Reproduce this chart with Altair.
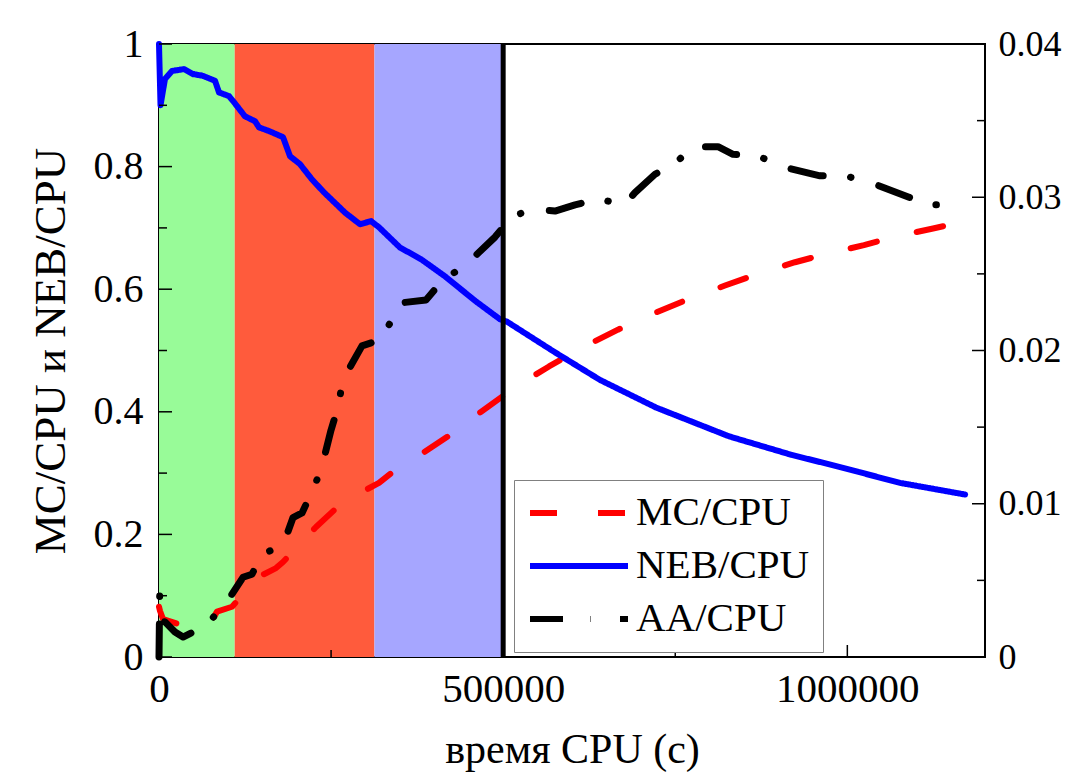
import altair as alt
import pandas as pd

# ---------------- data ----------------
t_neb = [0, 2200, 8700, 18900, 36300, 49400, 63900, 81400, 87200, 101700, 109000,
         124900, 139500, 145300, 159800, 180200, 190300, 204800, 222300, 239700,
         270200, 292000, 308000, 319600, 350100, 380600, 415500, 460500, 495400,
         505600, 575300, 640700, 722000, 828100, 918200, 992300, 1076700, 1171100]
v_neb = [1.0, 0.90, 0.943, 0.956, 0.959, 0.951, 0.948, 0.94, 0.921, 0.915, 0.905,
         0.882, 0.874, 0.864, 0.858, 0.848, 0.817, 0.804, 0.779, 0.758,
         0.725, 0.706, 0.711, 0.701, 0.668, 0.649, 0.621, 0.58, 0.551,
         0.547, 0.497, 0.452, 0.407, 0.36, 0.33, 0.309, 0.284, 0.265]

t_mc = [0, 1500, 5800, 37800, 63900, 77000, 84300, 106100, 145300, 170000, 180200,
        228100, 267300, 319600, 342900, 364700, 419900, 467800, 518600, 566600,
        618900, 666800, 722000, 767100, 822300, 867300, 924000, 967600, 1024200,
        1070700, 1124500, 1171100]
v_mc = [0.082, 0.075, 0.062, 0.05, 0.052, 0.06, 0.074, 0.082, 0.131, 0.145, 0.155,
        0.212, 0.253, 0.284, 0.305, 0.319, 0.36, 0.40, 0.441, 0.474,
        0.507, 0.534, 0.562, 0.583, 0.606, 0.624, 0.644, 0.657, 0.672,
        0.686, 0.699, 0.711]

t_aa = [0, 1000, 2500, 8700, 23200, 34900, 49400, 66800, 77000, 98800, 122000,
        135100, 149600, 180200, 194700, 207800, 222300, 235400, 249900, 260000,
        267300, 294900, 322500, 342900, 350100, 387900, 412600, 443100, 457600,
        488100, 514300, 546300, 575300, 604400, 637800, 675600, 691500, 720600,
        751100, 778700, 812100, 833900, 870200, 905100, 960300, 996700, 1031500,
        1089600, 1124500, 1166600]
v_aa = [0.0, 0.0040, 0.0024, 0.00229, 0.00163, 0.0013, 0.00163, 0.0022, 0.0025,
        0.0036, 0.0052, 0.0054, 0.0067, 0.0073, 0.0091, 0.0094, 0.0108, 0.0122,
        0.0148, 0.0163, 0.0181, 0.0203, 0.0207, 0.0224, 0.0231, 0.0233, 0.0246,
        0.0255, 0.0261, 0.0274, 0.0288, 0.0292, 0.0291, 0.0295, 0.0299, 0.0295,
        0.0303, 0.0315, 0.0323, 0.0333, 0.0333, 0.0328, 0.0327, 0.032, 0.0314,
        0.0314, 0.031, 0.030, 0.0295, 0.0296]

series_names = ["MC/CPU", "NEB/CPU", "AA/CPU"]
series_colors = ["#FF0000", "#0000FF", "#000000"]
series_dash = [[27, 41], [1, 0], [33, 27.5, 0.5, 29]]

region_start = [0, 110000, 313000]
region_end = [110000, 313000, 500000]
region_color = ["#98FB98", "#FF5B3C", "#A6A6FF"]
marker_t = [500000]

x_major = [0, 500000, 1000000]
x_minor = [250000, 750000]
yl_major = [0, 0.2, 0.4, 0.6, 0.8, 1.0]
yl_minor = [0.1, 0.3, 0.5, 0.7, 0.9]
yr_major = [0, 0.01, 0.02, 0.03, 0.04]
yr_minor = [0.005, 0.015, 0.025, 0.035]

# ---------------- frames ----------------
W, H = 826, 613
FONT = "Liberation Serif"

left_df = pd.concat([
    pd.DataFrame({"t": t_mc, "v": v_mc, "series": "MC/CPU"}),
    pd.DataFrame({"t": t_neb, "v": v_neb, "series": "NEB/CPU"}),
])
aa_df = pd.DataFrame({"t": t_aa, "v": v_aa, "series": "AA/CPU"})
reg_df = pd.DataFrame({"s": region_start, "e": region_end, "c": region_color})
mark_df = pd.DataFrame({"t": marker_t})

xs = alt.Scale(domain=[0, 1200000], nice=False, zero=False)
yls = alt.Scale(domain=[0, 1], nice=False)
yrs = alt.Scale(domain=[0, 0.04], nice=False)

common_axis = dict(labelFont=FONT, labelColor="black",
                   titleFont=FONT, titleFontWeight="normal",
                   titleColor="black", domain=False, ticks=False, tickSize=0,
                   grid=False, labelFlush=False)

x_axis = alt.Axis(values=x_major, format="d", title="время CPU (с)", labelPadding=12,
                  labelFontSize=41, titleFontSize=42, titlePadding=20, **common_axis)
yl_axis = alt.Axis(values=yl_major, format="~g", title="MC/CPU и NEB/CPU",
                   labelFontSize=40, titleFontSize=45,
                   labelPadding=16, titlePadding=20, **common_axis)
yr_axis = alt.Axis(values=yr_major, format="~g", title=None, orient="right",
                   labelFontSize=36, labelPadding=13, **common_axis)

legend = alt.Legend(title=None, orient="none", legendX=355, legendY=436,
                    symbolType="stroke", symbolSize=9604, clipHeight=40,
                    symbolStrokeWidth=6, labelFont=FONT, labelLimit=400,
                    labelFontSize=41, labelColor="black",
                    padding=13, rowPadding=12, symbolOffset=0,
                    labelOffset=5, strokeColor="#808080", fillColor="white")

color_enc = alt.Color("series:N", scale=alt.Scale(domain=series_names, range=series_colors),
                      legend=legend)
dash_enc = alt.StrokeDash("series:N", scale=alt.Scale(domain=series_names, range=series_dash),
                          legend=legend)

regions = alt.Chart(reg_df).mark_rect().encode(
    x=alt.X("s:Q", scale=xs, axis=x_axis), x2="e:Q",
    y=alt.value(0), y2=alt.value(H),
    fill=alt.Fill("c:N", scale=None),
)

lines = alt.Chart(left_df).mark_line(strokeWidth=6, strokeCap="round", strokeJoin="round").encode(
    x=alt.X("t:Q", scale=xs, axis=x_axis),
    y=alt.Y("v:Q", scale=yls, axis=yl_axis),
    color=color_enc, strokeDash=dash_enc,
    order="t:Q",
)

marker = alt.Chart(mark_df).mark_rule(color="black", strokeWidth=5).encode(
    x=alt.X("t:Q", scale=xs, axis=x_axis), y=alt.value(0), y2=alt.value(H)
)


def vtick(vals, length, scale, axis):
    return alt.Chart(pd.DataFrame({"v": vals})).mark_rule(color="black", strokeWidth=1.5).encode(
        y=alt.Y("v:Q", scale=scale, axis=axis), x=alt.value(0), x2=alt.value(length))


def rtick(vals, length, scale, axis):
    return alt.Chart(pd.DataFrame({"v": vals})).mark_rule(color="black", strokeWidth=1.5).encode(
        y=alt.Y("v:Q", scale=scale, axis=axis), x=alt.value(W), x2=alt.value(W - length))


def xtick(vals, length):
    return alt.Chart(pd.DataFrame({"t": vals})).mark_rule(color="black", strokeWidth=1.5).encode(
        x=alt.X("t:Q", scale=xs, axis=x_axis), y=alt.value(H), y2=alt.value(H - length))


left = alt.layer(regions, lines, marker,
                 vtick(yl_major, 13, yls, yl_axis), vtick(yl_minor, 8, yls, yl_axis),
                 xtick(x_major, 12), xtick(x_minor, 7))

aa = alt.Chart(aa_df).mark_line(strokeWidth=7, strokeCap="round", strokeJoin="round").encode(
    x=alt.X("t:Q", scale=xs, axis=x_axis),
    y=alt.Y("v:Q", scale=yrs, axis=yr_axis),
    color=color_enc, strokeDash=dash_enc,
    order="t:Q",
)

right = alt.layer(aa, rtick(yr_major, 13, yrs, yr_axis), rtick(yr_minor, 8, yrs, yr_axis))

chart = alt.layer(left, right).resolve_scale(y="independent").properties(
    width=W, height=H,
    autosize=alt.AutoSizeParams(type="none"),
    padding={"left": 151, "top": 36, "right": 77, "bottom": 118},
).configure_view(stroke="black", strokeWidth=2)

chart.save("out.html", embed_options={"renderer": "svg", "actions": False})
